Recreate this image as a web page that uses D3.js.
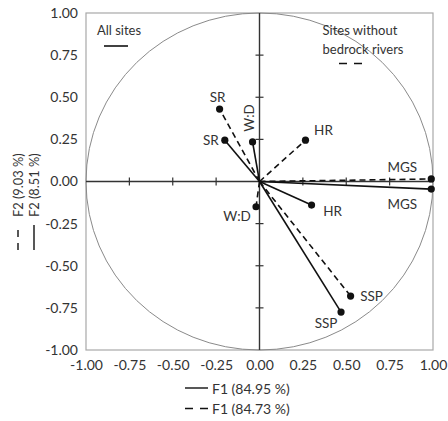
<!DOCTYPE html>
<html>
<head>
<meta charset="utf-8">
<script src="https://cdn.jsdelivr.net/npm/d3@7"></script>
<style>
  body { margin: 0; background: #fff; }
  text { font-family: Lato, "Open Sans", sans-serif; fill: #333; }
  .tick_label { font-size: 14px; }
  .var_label { font-size: 13.5px; }
  .legend_label { font-size: 13px; }
  .axis_title { font-size: 14px; }
  .yaxis_title { font-size: 12.8px; }
</style>
</head>
<body>
<script>
var margin = {top: 13, left: 86, right: 15, bottom: 71};
var W = 448, H = 421;
var width = W - margin.left - margin.right;
var height = H - margin.top - margin.bottom;

// Data: correlation circle loadings
var variables = ["SR", "W:D", "HR", "MGS", "SSP"];
var allF1 = [-0.20, -0.04, 0.30, 0.99, 0.47];
var allF2 = [0.245, 0.235, -0.14, -0.045, -0.775];
var noBedF1 = [-0.23, -0.02, 0.265, 0.99, 0.525];
var noBedF2 = [0.43, -0.15, 0.245, 0.015, -0.68];
var tickValues = [-1, -0.75, -0.5, -0.25, 0, 0.25, 0.5, 0.75, 1];
var legendAll = "All sites";
var legendNoBed = ["Sites without", "bedrock rivers"];
var xTitles = ["F1 (84.95 %)", "F1 (84.73 %)"];
var yTitles = ["F2 (8.51 %)", "F2 (9.03 %)"];

// label placement (dx, dy from the point), rot for rotated text
var allLabelPos = [{dx: -14, dy: 0}, {dx: -4, dy: -24, rot: true}, {dx: 21, dy: 6}, {dx: -29, dy: 15}, {dx: -15, dy: 11}];
var noBedLabelPos = [{dx: -2, dy: -12}, {dx: -19, dy: 9}, {dx: 18, dy: -10}, {dx: -29, dy: -12}, {dx: 21, dy: 0}];

var svg = d3.select("body").append("svg")
  .attr("width", W)
  .attr("height", H);

var g = svg.append("g")
  .attr("transform", "translate(" + margin.left + "," + margin.top + ")");

var x = d3.scaleLinear().domain([-1, 1]).range([0, width]);
var y = d3.scaleLinear().domain([-1, 1]).range([height, 0]);

// frame
g.append("rect")
  .attr("x", 0).attr("y", 0)
  .attr("width", width).attr("height", height)
  .attr("fill", "none")
  .attr("stroke", "#a8a8a8")
  .attr("stroke-width", 1.2);

// unit circle
g.append("ellipse")
  .attr("cx", x(0)).attr("cy", y(0))
  .attr("rx", x(1) - x(0)).attr("ry", y(0) - y(1))
  .attr("fill", "none")
  .attr("stroke", "#8a8a8a")
  .attr("stroke-width", 1);

// tick labels
var fmt = function(d) { return d3.format(".2f")(d).replace("−", "-"); };
var xAxis = d3.axisBottom(x).tickValues(tickValues).tickFormat(fmt).tickSize(0).tickPadding(10);
var xg = g.append("g").attr("transform", "translate(0," + height + ")").call(xAxis);
var yAxis = d3.axisLeft(y).tickValues(tickValues).tickFormat(fmt).tickSize(0).tickPadding(8);
var yg = g.append("g").call(yAxis);
[xg, yg].forEach(function(a) {
  a.select(".domain").remove();
  a.selectAll("text").attr("class", "tick_label").style("font-family", null).attr("fill", null);
  a.attr("font-size", null).attr("font-family", null);
});

// center axes
g.append("line")
  .attr("x1", 0).attr("x2", width)
  .attr("y1", y(0)).attr("y2", y(0))
  .attr("stroke", "#333").attr("stroke-width", 1.4);
g.append("line")
  .attr("x1", x(0)).attr("x2", x(0))
  .attr("y1", 0).attr("y2", height)
  .attr("stroke", "#333").attr("stroke-width", 1.4);

var inner = tickValues.filter(function(d) { return d !== 0 && Math.abs(d) !== 1; });
g.selectAll(".xtick").data(inner).enter().append("line")
  .attr("x1", function(d) { return x(d); }).attr("x2", function(d) { return x(d); })
  .attr("y1", y(0) - 4).attr("y2", y(0) + 4)
  .attr("stroke", "#333").attr("stroke-width", 1.2);
g.selectAll(".ytick").data(inner).enter().append("line")
  .attr("y1", function(d) { return y(d); }).attr("y2", function(d) { return y(d); })
  .attr("x1", x(0) - 4).attr("x2", x(0) + 4)
  .attr("stroke", "#333").attr("stroke-width", 1.2);

// vectors
function drawSeries(f1, f2, dashed, pos) {
  var data = variables.map(function(v, i) { return {name: v, x: f1[i], y: f2[i], pos: pos[i]}; });
  g.selectAll(null).data(data).enter().append("line")
    .attr("x1", x(0)).attr("y1", y(0))
    .attr("x2", function(d) { return x(d.x); })
    .attr("y2", function(d) { return y(d.y); })
    .attr("stroke", "#111")
    .attr("stroke-width", 1.6)
    .attr("stroke-dasharray", dashed ? "6,4" : null);
  g.selectAll(null).data(data).enter().append("circle")
    .attr("cx", function(d) { return x(d.x); })
    .attr("cy", function(d) { return y(d.y); })
    .attr("r", 3.6)
    .attr("fill", "#111");
  g.selectAll(null).data(data).enter().append("text")
    .attr("class", "var_label")
    .attr("text-anchor", "middle")
    .attr("dominant-baseline", "central")
    .attr("transform", function(d) {
      var t = "translate(" + (x(d.x) + d.pos.dx) + "," + (y(d.y) + d.pos.dy) + ")";
      return d.pos.rot ? t + " rotate(-90)" : t;
    })
    .text(function(d) { return d.name; });
}
drawSeries(allF1, allF2, false, allLabelPos);
drawSeries(noBedF1, noBedF2, true, noBedLabelPos);

// in-plot legends
svg.append("text").attr("class", "legend_label")
  .attr("x", 119).attr("y", 30).attr("text-anchor", "middle").attr("dominant-baseline", "central")
  .text(legendAll);
svg.append("line").attr("x1", 104).attr("x2", 128).attr("y1", 46).attr("y2", 46)
  .attr("stroke", "#111").attr("stroke-width", 1.6);
svg.append("text").attr("class", "legend_label")
  .attr("x", 360).attr("y", 30).attr("text-anchor", "middle").attr("dominant-baseline", "central")
  .text(legendNoBed[0]);
svg.append("text").attr("class", "legend_label")
  .attr("x", 363).attr("y", 49).attr("text-anchor", "middle").attr("dominant-baseline", "central")
  .text(legendNoBed[1]);
svg.append("line").attr("x1", 339).attr("x2", 362).attr("y1", 63.5).attr("y2", 63.5)
  .attr("stroke", "#111").attr("stroke-width", 1.6).attr("stroke-dasharray", "8,7");

// x axis titles
xTitles.forEach(function(t, i) {
  var yy = 388 + i * 20.5;
  svg.append("line").attr("x1", 185).attr("x2", 208).attr("y1", yy).attr("y2", yy)
    .attr("stroke", "#111").attr("stroke-width", 1.4)
    .attr("stroke-dasharray", i === 1 ? "8,7" : null);
  svg.append("text").attr("class", "axis_title")
    .attr("x", 212).attr("y", yy).attr("dominant-baseline", "central")
    .text(t);
});

// y axis titles (rotated)
yTitles.forEach(function(t, i) {
  var xx = i === 0 ? 34 : 18;
  var ya = svg.append("g").attr("transform", "translate(" + xx + ",250) rotate(-90)");
  ya.append("line").attr("x1", 0).attr("x2", 25).attr("y1", 0).attr("y2", 0)
    .attr("stroke", "#111").attr("stroke-width", 1.4)
    .attr("stroke-dasharray", i === 1 ? "7,6" : null);
  ya.append("text").attr("class", "yaxis_title")
    .attr("x", 33).attr("y", 0).attr("dominant-baseline", "central")
    .text(t);
});
</script>
</body>
</html>
